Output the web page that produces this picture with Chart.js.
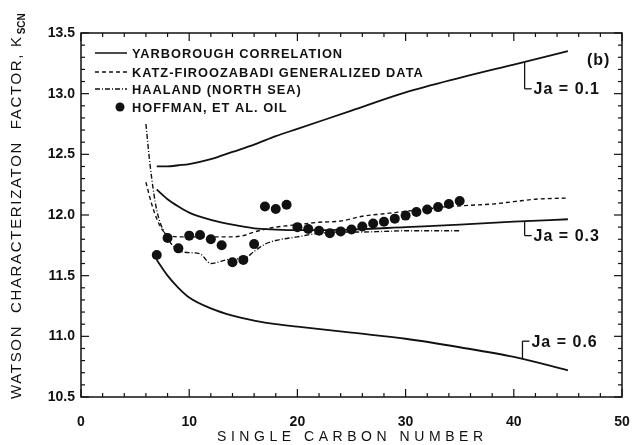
<!DOCTYPE html>
<html>
<head>
<meta charset="utf-8">
<script src="https://cdn.jsdelivr.net/npm/chart.js@4.4.0/dist/chart.umd.min.js"></script>
<style>
  html, body { margin: 0; padding: 0; background: #fff; }
  #wrap { width: 634px; height: 445px; }
</style>
</head>
<body>
<div id="wrap"><canvas id="grafico"></canvas></div>
<script>
// Yarborough correlation, three aromaticity levels
const yarbX = [7, 8, 9, 10, 12, 14, 16, 18, 20, 25, 30, 35, 40, 45];
const yarb01 = [12.40, 12.40, 12.41, 12.42, 12.46, 12.52, 12.58, 12.65, 12.71, 12.86, 13.01, 13.13, 13.24, 13.35];
const yarb03 = [12.21, 12.13, 12.07, 12.02, 11.96, 11.92, 11.89, 11.88, 11.875, 11.88, 11.90, 11.92, 11.945, 11.965];
const yarb06 = [11.63, 11.50, 11.40, 11.32, 11.23, 11.17, 11.13, 11.10, 11.08, 11.03, 10.98, 10.91, 10.83, 10.72];

// Katz-Firoozabadi generalized data
const katzX = [6, 6.5, 7, 7.5, 8, 9, 10, 12, 14, 15, 16, 18, 20, 22, 24, 26, 28, 30, 32, 34, 36, 38, 40, 42, 45];
const katzY = [12.27, 12.10, 11.97, 11.88, 11.84, 11.82, 11.82, 11.82, 11.82, 11.83, 11.86, 11.90, 11.92, 11.94, 11.95, 11.99, 12.01, 12.03, 12.05, 12.07, 12.08, 12.09, 12.11, 12.13, 12.14];

// Haaland (North Sea)
const haalX = [6, 6.4, 7, 8, 9, 10, 11, 12, 13, 14, 15, 16, 17, 18, 20, 22, 24, 26, 28, 30, 32, 35];
const haalY = [12.75, 12.40, 12.04, 11.81, 11.71, 11.69, 11.68, 11.60, 11.62, 11.64, 11.64, 11.70, 11.76, 11.79, 11.82, 11.85, 11.86, 11.86, 11.865, 11.87, 11.87, 11.87];

// Hoffman et al. oil
const hoffX = [7, 8, 9, 10, 11, 12, 13, 14, 15, 16, 17, 18, 19, 20, 21, 22, 23, 24, 25, 26, 27, 28, 29, 30, 31, 32, 33, 34, 35];
const hoffY = [11.67, 11.81, 11.725, 11.83, 11.835, 11.80, 11.75, 11.61, 11.63, 11.76, 12.07, 12.05, 12.085, 11.90, 11.885, 11.87, 11.85, 11.865, 11.88, 11.905, 11.93, 11.945, 11.97, 11.995, 12.025, 12.045, 12.065, 12.09, 12.115];

const legendLabels = ['YARBOROUGH CORRELATION', 'KATZ-FIROOZABADI GENERALIZED DATA', 'HAALAND (NORTH SEA)', 'HOFFMAN, ET AL. OIL'];
const jaLabels = ['Ja = 0.1', 'Ja = 0.3', 'Ja = 0.6'];
const panelLabel = '(b)';
const xTitle = 'SINGLE CARBON NUMBER';
const yTitle = 'WATSON  CHARACTERIZATON  FACTOR, K';
const yTitleSub = 'SCN';

const pts = (xs, ys) => xs.map((x, i) => ({ x: x, y: ys[i] }));

function valueAt(xs, ys, v) {
  for (let i = 1; i < xs.length; i++) {
    if (v <= xs[i]) {
      const t = (v - xs[i - 1]) / (xs[i] - xs[i - 1]);
      return ys[i - 1] + t * (ys[i] - ys[i - 1]);
    }
  }
  return ys[ys.length - 1];
}

const INK = '#111';
const lineDs = (data, extra) => Object.assign({
  data: data,
  showLine: true,
  borderColor: INK,
  borderWidth: 1.8,
  pointRadius: 0,
  fill: false,
  cubicInterpolationMode: 'monotone'
}, extra || {});

// annotation brackets: where they hang off each curve, where the label sits
const jaMarks = [
  { xs: yarbX, ys: yarb01, at: 41, labelY: 13.04 },
  { xs: yarbX, ys: yarb03, at: 41, labelY: 11.83 },
  { xs: yarbX, ys: yarb06, at: 40.8, labelY: 10.96 }
];

function spacedText(ctx, text, x, y, target) {
  ctx.letterSpacing = '0px';
  const w = ctx.measureText(text).width;
  const sp = target ? Math.max(0, (target - w) / (text.length - 1)) : 0;
  ctx.letterSpacing = sp + 'px';
  ctx.fillText(text, x, y);
  const out = ctx.measureText(text).width;
  ctx.letterSpacing = '0px';
  return out;
}

const decor = {
  id: 'decor',
  afterDraw(chart) {
    const { ctx, chartArea: a, scales: { x, y } } = chart;
    const seg = (x1, y1, x2, y2) => { ctx.beginPath(); ctx.moveTo(x1, y1); ctx.lineTo(x2, y2); ctx.stroke(); };
    ctx.save();
    ctx.strokeStyle = INK;
    ctx.fillStyle = INK;

    // frame
    ctx.lineWidth = 1.5;
    ctx.strokeRect(a.left, a.top, a.right - a.left, a.bottom - a.top);

    // inward ticks on all four sides
    ctx.lineWidth = 1.2;
    for (let v = 0; v <= 50; v += 2) {
      const px = x.getPixelForValue(v);
      const len = v % 10 === 0 ? 8 : 4;
      seg(px, a.bottom, px, a.bottom - len);
      seg(px, a.top, px, a.top + len);
    }
    for (let i = 0; i <= 30; i++) {
      const py = y.getPixelForValue(10.5 + i * 0.1);
      const len = i % 5 === 0 ? 8 : 4;
      seg(a.left, py, a.left + len, py);
      seg(a.right, py, a.right - len, py);
    }

    // legend
    const lx0 = 95, lx1 = 127, tx = 132;
    const rows = [53, 72, 89, 107];
    const dashes = [[], [4, 3], [5, 2, 1, 2]];
    ctx.lineWidth = 1.5;
    for (let i = 0; i < 3; i++) {
      ctx.setLineDash(dashes[i]);
      seg(lx0, rows[i], lx1, rows[i]);
    }
    ctx.setLineDash([]);
    ctx.beginPath();
    ctx.arc(120, rows[3], 4.5, 0, Math.PI * 2);
    ctx.fill();
    ctx.font = 'bold 12.8px "Liberation Sans", Arial, sans-serif';
    ctx.textBaseline = 'middle';
    ctx.textAlign = 'left';
    ctx.letterSpacing = '1px';
    legendLabels.forEach((t, i) => ctx.fillText(t, tx, rows[i] + 1));
    ctx.letterSpacing = '0px';

    // Ja brackets and labels
    ctx.lineWidth = 1.3;
    ctx.font = 'bold 16px "Liberation Sans", Arial, sans-serif';
    ctx.letterSpacing = '1px';
    jaMarks.forEach((m, i) => {
      const px = x.getPixelForValue(m.at);
      const pyLine = y.getPixelForValue(valueAt(m.xs, m.ys, m.at));
      const pyLab = y.getPixelForValue(m.labelY);
      seg(px, pyLine, px, pyLab);
      seg(px, pyLab, px + 7, pyLab);
      ctx.fillText(jaLabels[i], px + 9, pyLab + 1);
    });
    ctx.fillText(panelLabel, 587, 61);
    ctx.letterSpacing = '0px';

    // x title
    ctx.font = '14px "Liberation Sans", Arial, sans-serif';
    ctx.textAlign = 'left';
    ctx.textBaseline = 'middle';
    const xt = 266;
    spacedText(ctx, xTitle, 350 - xt / 2, 437, xt);

    // y title with subscript
    ctx.save();
    ctx.translate(17, 399);
    ctx.rotate(-Math.PI / 2);
    ctx.font = '15px "Liberation Sans", Arial, sans-serif';
    const w = spacedText(ctx, yTitle, 0, 0, 362);
    ctx.font = 'bold 10px "Liberation Sans", Arial, sans-serif';
    ctx.fillText(yTitleSub, w + 1, 5);
    ctx.restore();

    ctx.restore();
  }
};

new Chart(document.getElementById('grafico'), {
  type: 'scatter',
  data: {
    datasets: [
      lineDs(pts(yarbX, yarb01)),
      lineDs(pts(yarbX, yarb03)),
      lineDs(pts(yarbX, yarb06)),
      lineDs(pts(katzX, katzY), { borderWidth: 1.4, borderDash: [4, 3] }),
      lineDs(pts(haalX, haalY), { borderWidth: 1.4, borderDash: [5, 2, 1, 2] }),
      {
        data: pts(hoffX, hoffY),
        showLine: false,
        pointRadius: 5,
        pointBackgroundColor: INK,
        pointBorderColor: INK,
        pointBorderWidth: 0
      }
    ]
  },
  options: {
    responsive: true,
    maintainAspectRatio: false,
    animation: false,
    layout: { padding: { top: 33, right: 12, left: 0, bottom: 0 } },
    plugins: {
      legend: { display: false },
      tooltip: { enabled: false }
    },
    scales: {
      x: {
        type: 'linear',
        min: 0,
        max: 50,
        grid: { display: false, drawTicks: false },
        border: { display: false },
        ticks: {
          stepSize: 10,
          padding: 17,
          color: INK,
          font: { family: '"Liberation Sans", Arial, sans-serif', size: 14, weight: 'bold' }
        },
        afterFit: s => { s.height = 48; s.paddingLeft = 0; s.paddingRight = 0; }
      },
      y: {
        type: 'linear',
        min: 10.5,
        max: 13.5,
        grid: { display: false, drawTicks: false },
        border: { display: false },
        ticks: {
          stepSize: 0.5,
          padding: 6,
          color: INK,
          font: { family: '"Liberation Sans", Arial, sans-serif', size: 14, weight: 'bold' },
          callback: v => v.toFixed(1)
        },
        afterFit: s => { s.width = 81; s.paddingTop = 0; s.paddingBottom = 0; }
      }
    }
  },
  plugins: [decor]
});
</script>
</body>
</html>
